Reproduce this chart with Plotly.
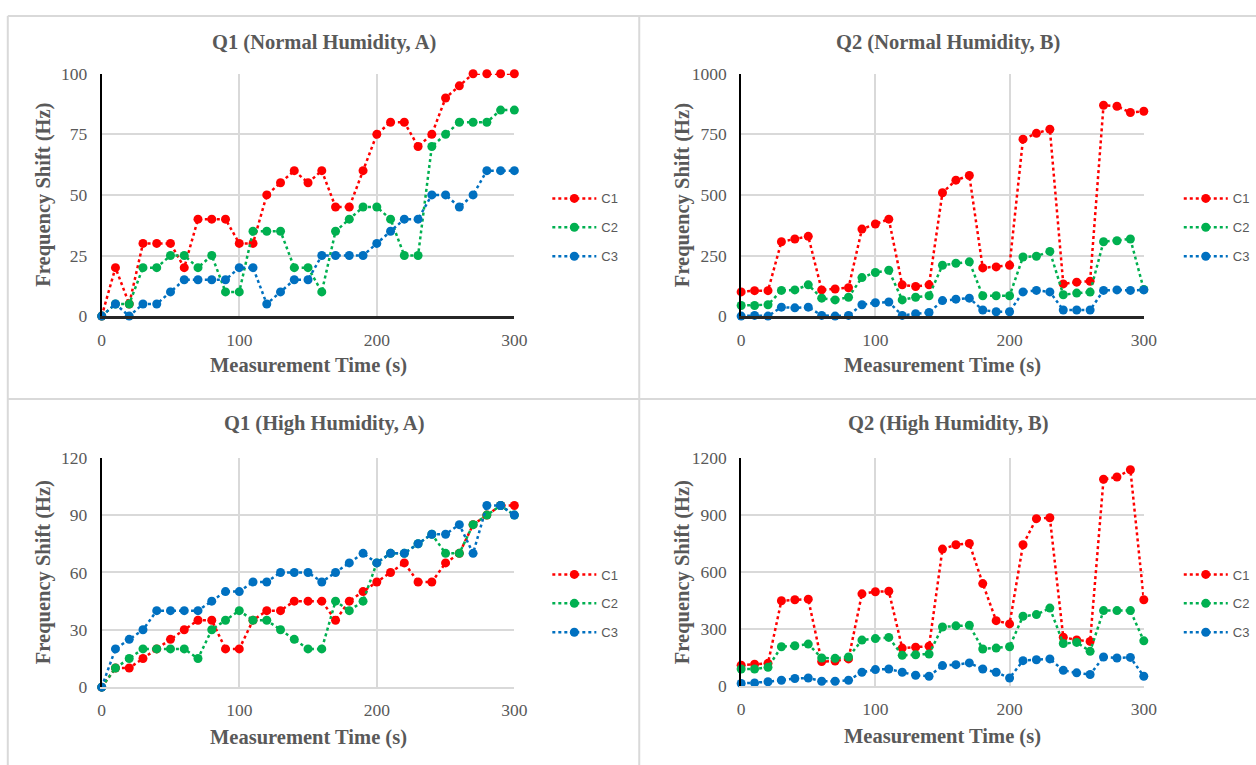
import plotly.graph_objects as go

time_s = list(range(0, 301, 10))

# Q1 (Normal Humidity, A)
q1n_c1 = [0, 20, 5, 30, 30, 30, 20, 40, 40, 40, 30, 30, 50, 55, 60, 55, 60, 45, 45, 60, 75, 80, 80, 70, 75, 90, 95, 100, 100, 100, 100]
q1n_c2 = [0, 5, 5, 20, 20, 25, 25, 20, 25, 10, 10, 35, 35, 35, 20, 20, 10, 35, 40, 45, 45, 40, 25, 25, 70, 75, 80, 80, 80, 85, 85]
q1n_c3 = [0, 5, 0, 5, 5, 10, 15, 15, 15, 15, 20, 20, 5, 10, 15, 15, 25, 25, 25, 25, 30, 35, 40, 40, 50, 50, 45, 50, 60, 60, 60]

# Q2 (Normal Humidity, B)
q2n_c1 = [100, 105, 105, 307, 318, 329, 108, 112, 117, 359, 380, 400, 129, 122, 129, 509, 561, 580, 199, 203, 210, 730, 754, 771, 133, 140, 144, 870, 866, 840, 845]
q2n_c2 = [44, 44, 47, 106, 108, 129, 74, 67, 78, 159, 180, 189, 67, 78, 84, 210, 218, 224, 84, 84, 84, 244, 247, 267, 88, 95, 99, 307, 311, 318, 110]
q2n_c3 = [0, 3, 0, 37, 34, 37, 3, 0, 3, 47, 55, 58, 3, 10, 15, 64, 70, 74, 25, 18, 18, 100, 106, 100, 25, 25, 25, 106, 108, 106, 108]

# Q1 (High Humidity, A)
q1h_c1 = [0, 10, 10, 15, 20, 25, 30, 35, 35, 20, 20, 35, 40, 40, 45, 45, 45, 35, 45, 50, 55, 60, 65, 55, 55, 65, 70, 85, 90, 95, 95]
q1h_c2 = [0, 10, 15, 20, 20, 20, 20, 15, 30, 35, 40, 35, 35, 30, 25, 20, 20, 45, 40, 45, 65, 70, 70, 75, 80, 70, 70, 85, 90, 95, 90]
q1h_c3 = [0, 20, 25, 30, 40, 40, 40, 40, 45, 50, 50, 55, 55, 60, 60, 60, 55, 60, 65, 70, 65, 70, 70, 75, 80, 80, 85, 70, 95, 95, 90]

# Q2 (High Humidity, B)
q2h_c1 = [110, 115, 120, 449, 454, 457, 129, 132, 143, 485, 496, 499, 200, 205, 210, 720, 743, 750, 539, 344, 327, 743, 880, 885, 257, 243, 235, 1087, 1099, 1137, 454]
q2h_c2 = [90, 90, 99, 207, 212, 221, 148, 146, 153, 242, 250, 256, 162, 165, 169, 311, 317, 320, 195, 200, 207, 367, 376, 410, 224, 230, 183, 397, 397, 397, 238]
q2h_c3 = [14, 17, 23, 31, 40, 43, 26, 26, 31, 73, 87, 90, 73, 57, 52, 108, 113, 122, 90, 73, 43, 134, 139, 143, 83, 70, 61, 153, 148, 151, 52]

series_names = ["C1", "C2", "C3"]
series_colors = ["#ff0000", "#00b050", "#0070c0"]

panels = [
    dict(title="Q1 (Normal Humidity, A)", data=[q1n_c1, q1n_c2, q1n_c3], yrange=[0, 100], dtick=25, dark_x=True),
    dict(title="Q2 (Normal Humidity, B)", data=[q2n_c1, q2n_c2, q2n_c3], yrange=[0, 1000], dtick=250, dark_x=True),
    dict(title="Q1 (High Humidity, A)", data=[q1h_c1, q1h_c2, q1h_c3], yrange=[0, 120], dtick=30, dark_x=False),
    dict(title="Q2 (High Humidity, B)", data=[q2h_c1, q2h_c2, q2h_c3], yrange=[0, 1200], dtick=300, dark_x=False),
]

W, H = 1272, 784
# mapping from target window pixels to figure pixels (compensates the page rendering)
AX, CX = 0.9875, 2.2
AY, CY = 0.977, 8.1

# plot-area pixel boxes in window coordinates (left, right, top, bottom)
boxes = [(100, 513, 72, 315), (740, 1143, 72, 315), (100, 513, 457, 687), (740, 1143, 457, 686)]
title_cx = [322, 947, 322, 947]
title_y = [41, 41, 423, 423]
legend_x = [546, 1178, 546, 1178]
legend_y = [182, 182, 559, 559]


def px(x):
    return ((x - CX) / AX) / W


def py(y):
    return 1 - ((y - CY) / AY) / H


fig = go.Figure()
serif = "Liberation Serif"
gray = "#595959"

for i, p in enumerate(panels):
    ax = "" if i == 0 else str(i + 1)
    xa = "x" + ax
    ya = "y" + ax
    leg = "legend" if i == 0 else "legend" + str(i + 1)
    for name, vals, col in zip(series_names, p["data"], series_colors):
        fig.add_trace(go.Scatter(
            x=time_s, y=vals, name=name, mode="lines+markers",
            line=dict(color=col, width=2.5, dash="dot"),
            marker=dict(color=col, size=9),
            xaxis=xa, yaxis=ya, legend=leg, legendgroup=name + str(i), cliponaxis=False,
        ))
    l, r, t, b = boxes[i]
    fig.layout["xaxis" + ax] = dict(
        domain=[px(l), px(r)], range=[0, 300], dtick=100, tick0=0, anchor=ya,
        showgrid=True, gridcolor="#d9d9d9", gridwidth=1.5,
        showline=True, linecolor="#262626" if p["dark_x"] else "#d9d9d9", linewidth=2.5 if p["dark_x"] else 1.5,
        zeroline=False, ticks="", tickfont=dict(family=serif, size=17.5, color=gray),
        ticklabelstandoff=6, fixedrange=True,
    )
    fig.layout["yaxis" + ax] = dict(
        domain=[py(b), py(t)], range=p["yrange"], dtick=p["dtick"], tick0=0, anchor=xa,
        showgrid=True, gridcolor="#d9d9d9", gridwidth=1.5,
        showline=True, linecolor="#000000", linewidth=2,
        zeroline=False, ticks="", tickfont=dict(family=serif, size=17.5, color=gray),
        ticklabelstandoff=9, fixedrange=True,
    )
    fig.layout[leg] = dict(
        x=px(legend_x[i]), y=py(legend_y[i]), xanchor="left", yanchor="top",
        font=dict(family="Liberation Sans", size=13, color=gray),
        bgcolor="rgba(0,0,0,0)", tracegroupgap=9, itemwidth=44,
    )
    fig.add_annotation(x=px(title_cx[i]), y=py(title_y[i]), xref="paper", yref="paper",
                       text="<b>" + p["title"] + "</b>", showarrow=False,
                       font=dict(family=serif, size=20.5, color=gray), xanchor="center", yanchor="middle")
    fig.add_annotation(x=px((l + r) / 2), y=py(b + 50), xref="paper", yref="paper",
                       text="<b>Measurement Time (s)</b>", showarrow=False,
                       font=dict(family=serif, size=20.5, color=gray), xanchor="center", yanchor="middle")
    fig.add_annotation(x=px(l - 58), y=py((t + b) / 2), xref="paper", yref="paper",
                       text="<b>Frequency Shift (Hz)</b>", showarrow=False, textangle=-90,
                       font=dict(family=serif, size=20.5, color=gray), xanchor="center", yanchor="middle")

frame = dict(color="#d9d9d9", width=2)
shapes = [
    dict(type="line", xref="paper", yref="paper", x0=px(6), x1=1, y0=py(14), y1=py(14), line=frame),
    dict(type="line", xref="paper", yref="paper", x0=px(6), x1=px(6), y0=0, y1=py(14), line=frame),
    dict(type="line", xref="paper", yref="paper", x0=px(638), x1=px(638), y0=0, y1=py(14), line=frame),
    dict(type="line", xref="paper", yref="paper", x0=px(6), x1=1, y0=py(398), y1=py(398), line=frame),
]

fig.update_layout(
    width=W, height=H, margin=dict(l=0, r=0, t=0, b=0),
    paper_bgcolor="white", plot_bgcolor="white",
    showlegend=True, shapes=shapes,
)

fig.write_html("out.html", config={"displayModeBar": False})
